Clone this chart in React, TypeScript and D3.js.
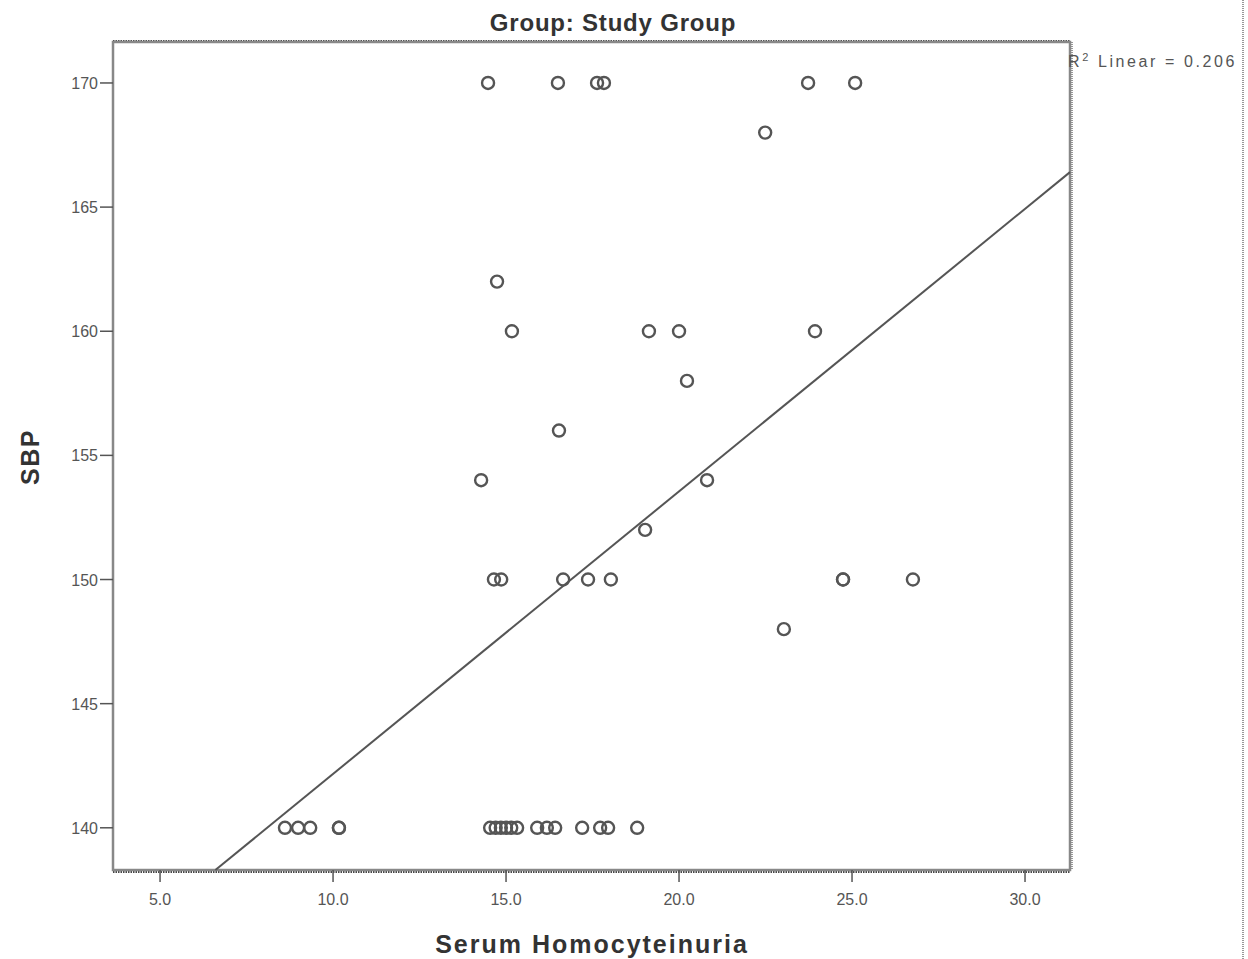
import React from "react";
import * as d3 from "d3";

const title = "Group: Study Group";
const xLabel = "Serum Homocyteinuria";
const yLabel = "SBP";
const r2Text = "0.206";

const xTicks = [5, 10, 15, 20, 25, 30];
const yTicks = [140, 145, 150, 155, 160, 165, 170];

const homocysteine = [
  14.48, 16.5, 17.63, 17.83, 23.73, 25.09,
  22.49,
  14.74,
  15.17, 19.13, 20.0, 23.93,
  20.23,
  16.53,
  14.28, 20.81,
  19.02,
  14.65, 14.86, 16.65, 17.37, 18.03, 24.74, 24.74, 26.76,
  23.03,
  8.61, 8.99, 9.34, 10.17, 10.17, 14.54, 14.7, 14.85, 15.0, 15.15, 15.32,
  15.9, 16.18, 16.42, 17.2, 17.72, 17.95, 18.79,
];
const sbp = [
  170, 170, 170, 170, 170, 170,
  168,
  162,
  160, 160, 160, 160,
  158,
  156,
  154, 154,
  152,
  150, 150, 150, 150, 150, 150, 150, 150,
  148,
  140, 140, 140, 140, 140, 140, 140, 140, 140, 140, 140,
  140, 140, 140, 140, 140, 140, 140,
];

const fitIntercept = 130.79;
const fitSlope = 1.138;

const W = 1248;
const H = 959;
const L = 113, R = 1070, T = 42, B = 870;

export default function App() {
  const x = d3.scaleLinear().domain([3.64, 31.3]).range([L, R]);
  const y = d3.scaleLinear().domain([138.3, 171.65]).range([B, T]);
  const [xd0, xd1] = x.domain();
  const [yd0] = y.domain();
  const xStart = Math.max(xd0, (yd0 - fitIntercept) / fitSlope);
  const lineGen = d3.line<number>().x((v) => x(v)).y((v) => y(fitIntercept + fitSlope * v));
  const linePath = lineGen([xStart, xd1]) || "";
  const font = "'Liberation Sans', Arial, sans-serif";
  const tickColor = "#555";

  return (
    <svg width={W} height={H} style={{ position: "absolute", left: 0, top: 0, background: "#fff" }}>
      {/* right dotted border */}
      <line x1={1243} x2={1243} y1={0} y2={H} stroke="#777" strokeWidth={1.5} strokeDasharray="1,1" />
      <text x={613} y={31} textAnchor="middle" fontFamily={font} fontWeight="bold" fontSize={24} letterSpacing={0.8} fill="#333">{title}</text>

      {/* frame */}
      <line x1={L} x2={R} y1={T - 1} y2={T - 1} stroke="#444" strokeWidth={2} strokeDasharray="1.5,1" />
      <line x1={L} x2={R} y1={B + 2} y2={B + 2} stroke="#444" strokeWidth={2} strokeDasharray="1.5,1" />
      <rect x={L} y={T} width={R - L} height={B - T} fill="none" stroke="#888" strokeWidth={2.5} />
      <line x1={R + 2} x2={R + 2} y1={T} y2={B} stroke="#777" strokeWidth={1.5} strokeDasharray="1,1" />

      {/* y axis */}
      {yTicks.map((t) => (
        <g key={"y" + t}>
          <line x1={L - 13} x2={L} y1={y(t)} y2={y(t)} stroke={tickColor} strokeWidth={1.5} />
          <text x={L - 15} y={y(t) + 6} textAnchor="end" fontFamily={font} fontSize={16} fill="#555">{t}</text>
        </g>
      ))}
      {/* x axis */}
      {xTicks.map((t) => (
        <g key={"x" + t}>
          <line x1={x(t)} x2={x(t)} y1={B} y2={B + 12} stroke={tickColor} strokeWidth={1.5} />
          <text x={x(t)} y={B + 35} textAnchor="middle" fontFamily={font} fontSize={16} fill="#555">{d3.format(".1f")(t)}</text>
        </g>
      ))}

      <text transform={`translate(39,${457}) rotate(-90)`} textAnchor="middle" fontFamily={font} fontWeight="bold" fontSize={25} letterSpacing={1.5} fill="#333">{yLabel}</text>
      <text x={592} y={953} textAnchor="middle" fontFamily={font} fontWeight="bold" fontSize={25} letterSpacing={2} fill="#333">{xLabel}</text>

      {/* fit line */}
      <path d={linePath} fill="none" stroke="#555" strokeWidth={2} />

      {/* points */}
      {homocysteine.map((v, i) => (
        <circle key={i} cx={x(v)} cy={y(sbp[i])} r={6} fill="none" stroke="#555" strokeWidth={2.4} />
      ))}

      <text x={1068} y={67} fontFamily={font} fontSize={16} letterSpacing={2.6} fill="#555">
        R<tspan dy={-6} fontSize={11}>2</tspan><tspan dy={6}> Linear = {r2Text}</tspan>
      </text>
    </svg>
  );
}
